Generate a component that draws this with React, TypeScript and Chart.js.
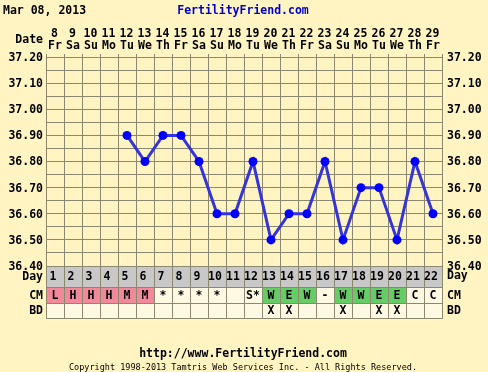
import React, { useEffect, useRef } from 'react';
import { Chart, registerables } from 'chart.js';

Chart.register(...registerables);

const headerDate = 'Mar 08, 2013';
const siteTitle = 'FertilityFriend.com';
const footerUrl = 'http://www.FertilityFriend.com';
const footerCopyright = 'Copyright 1998-2013 Tamtris Web Services Inc. - All Rights Reserved.';

const dates = [8, 9, 10, 11, 12, 13, 14, 15, 16, 17, 18, 19, 20, 21, 22, 23, 24, 25, 26, 27, 28, 29];
const weekdays = ['Fr', 'Sa', 'Su', 'Mo', 'Tu', 'We', 'Th', 'Fr', 'Sa', 'Su', 'Mo', 'Tu', 'We', 'Th', 'Fr', 'Sa', 'Su', 'Mo', 'Tu', 'We', 'Th', 'Fr'];
const cycleDays = ['1', '2', '3', '4', '5', '6', '7', '8', '9', '10', '11', '12', '13', '14', '15', '16', '17', '18', '19', '20', '21', '22'];
const temperatures: (number | null)[] = [null, null, null, null, 36.9, 36.8, 36.9, 36.9, 36.8, 36.6, 36.6, 36.8, 36.5, 36.6, 36.6, 36.8, 36.5, 36.7, 36.7, 36.5, 36.8, 36.6];
const cervicalMucus = ['L', 'H', 'H', 'H', 'M', 'M', '*', '*', '*', '*', '', 'S*', 'W', 'E', 'W', '-', 'W', 'W', 'E', 'E', 'C', 'C'];
const intercourse = ['', '', '', '', '', '', '', '', '', '', '', '', 'X', 'X', '', '', 'X', '', 'X', 'X', '', ''];
const yTickValues = [37.2, 37.1, 37.0, 36.9, 36.8, 36.7, 36.6, 36.5, 36.4];

const BG = '#FFF4C2';
const GRID = '#8c8870';
const CELL = '#FFF8E2';
const DAYROW = '#C8C8C8';
const PINK = '#F2899A';
const GREEN = '#66CC66';
const MONO = '"DejaVu Sans Mono", "Liberation Mono", monospace';

const cmColor = (c: string) => {
  if (c === 'L' || c === 'H' || c === 'M') return PINK;
  if (c === 'W' || c === 'E') return GREEN;
  return CELL;
};

const decorPlugin = {
  id: 'decor',
  beforeDraw(chart: any) {
    const ctx = chart.ctx as CanvasRenderingContext2D;
    ctx.save();
    ctx.fillStyle = BG;
    ctx.fillRect(0, 0, chart.width, chart.height);
    ctx.restore();
  },
  afterDraw(chart: any) {
    const ctx = chart.ctx as CanvasRenderingContext2D;
    const area = chart.chartArea;
    const xs = chart.scales.x;
    const ys = chart.scales.y;
    const n = cycleDays.length;
    const half = (xs.getPixelForValue(1) - xs.getPixelForValue(0)) / 2;
    const colLeft = (i: number) => Math.round(xs.getPixelForValue(i) - half);
    const colRight = (i: number) => Math.round(xs.getPixelForValue(i) + half);
    const dayTop = Math.round(area.bottom);
    const cmTop = dayTop + 21;
    const bdTop = cmTop + 16;
    const tableBottom = bdTop + 15;

    ctx.save();
    ctx.fillStyle = DAYROW;
    ctx.fillRect(colLeft(0), dayTop, colRight(n - 1) - colLeft(0), cmTop - dayTop);
    for (let i = 0; i < n; i++) {
      ctx.fillStyle = cmColor(cervicalMucus[i]);
      ctx.fillRect(colLeft(i), cmTop, colRight(i) - colLeft(i), bdTop - cmTop);
      ctx.fillStyle = CELL;
      ctx.fillRect(colLeft(i), bdTop, colRight(i) - colLeft(i), tableBottom - bdTop);
    }
    ctx.strokeStyle = GRID;
    ctx.lineWidth = 1;
    ctx.beginPath();
    for (const yy of [dayTop, cmTop, bdTop, tableBottom]) {
      ctx.moveTo(colLeft(0), yy + 0.5);
      ctx.lineTo(colRight(n - 1) + 1, yy + 0.5);
    }
    for (let i = 0; i <= n; i++) {
      const xx = (i < n ? colLeft(i) : colRight(n - 1)) + 0.5;
      ctx.moveTo(xx, area.top - 3);
      ctx.lineTo(xx, area.top);
      ctx.moveTo(xx, dayTop);
      ctx.lineTo(xx, tableBottom + 1);
    }
    ctx.stroke();

    ctx.fillStyle = '#000';
    ctx.textBaseline = 'middle';
    ctx.font = `bold 11.5px ${MONO}`;

    ctx.textAlign = 'left';
    ctx.fillText(headerDate, 3, 11);
    ctx.fillStyle = '#0000CC';
    ctx.textAlign = 'center';
    ctx.fillText(siteTitle, 243, 11);
    ctx.fillStyle = '#000';
    ctx.textAlign = 'right';
    ctx.fillText('Date', 43, 40);
    ctx.textAlign = 'center';
    for (let i = 0; i < n; i++) {
      const cx = xs.getPixelForValue(i);
      ctx.fillText(String(dates[i]), cx - 0.5, 34);
      ctx.fillText(weekdays[i], cx, 46.5);
    }

    for (const v of yTickValues) {
      const py = ys.getPixelForValue(v);
      ctx.textAlign = 'right';
      ctx.fillText(v.toFixed(2), 43, py + 1);
      ctx.textAlign = 'left';
      ctx.fillText(v.toFixed(2), 447, py + 1);
    }

    const rowLabels: [string, number][] = [['Day', dayTop + 11.5], ['CM', cmTop + 9], ['BD', bdTop + 8.5]];
    for (const [t, yy] of rowLabels) {
      ctx.textAlign = 'right';
      ctx.fillText(t, 43, yy);
      ctx.textAlign = 'left';
      ctx.fillText(t, 447, yy + (t === 'Day' ? -1 : 0));
    }
    ctx.textAlign = 'center';
    for (let i = 0; i < n; i++) {
      const cx = xs.getPixelForValue(i);
      ctx.fillText(cycleDays[i], cx - 2, dayTop + 11.5);
      ctx.fillText(cervicalMucus[i], cx, cmTop + 9);
      ctx.fillText(intercourse[i], cx, bdTop + 8.5);
    }

    ctx.textAlign = 'center';
    ctx.fillText(footerUrl, 243, 354);
    ctx.font = `8.5px ${MONO}`;
    ctx.fillText(footerCopyright, 243, 368);
    ctx.restore();
  },
};

export default function App() {
  const ref = useRef<HTMLCanvasElement>(null);
  useEffect(() => {
    document.body.style.margin = '0';
    const chart = new Chart(ref.current!, {
      type: 'line',
      data: {
        labels: cycleDays,
        datasets: [
          {
            data: temperatures,
            borderColor: '#3434DC',
            borderWidth: 3,
            pointBackgroundColor: '#0000FF',
            pointBorderColor: '#0000FF',
            pointBorderWidth: 0,
            pointRadius: 4.5,
            spanGaps: false,
            tension: 0,
          },
        ],
      },
      options: {
        responsive: false,
        animation: false,
        events: [],
        layout: { padding: { left: 46, right: 46, top: 57, bottom: 106 } },
        plugins: { legend: { display: false }, tooltip: { enabled: false }, title: { display: false } },
        scales: {
          x: {
            type: 'category',
            offset: true,
            grid: { offset: true, color: GRID, lineWidth: 1, drawTicks: false },
            border: { display: false },
            ticks: { display: false },
            afterFit: (s: any) => { s.height = 0; },
          },
          y: {
            min: 36.4,
            max: 37.2,
            grid: { color: GRID, lineWidth: 1, drawTicks: false },
            border: { display: false },
            ticks: { display: false, stepSize: 0.05 },
            afterFit: (s: any) => { s.width = 0; },
          },
        },
      },
      plugins: [decorPlugin],
    } as any);
    return () => chart.destroy();
  }, []);
  return <canvas ref={ref} width={488} height={372} style={{ display: 'block', width: 488, height: 372 }} />;
}
